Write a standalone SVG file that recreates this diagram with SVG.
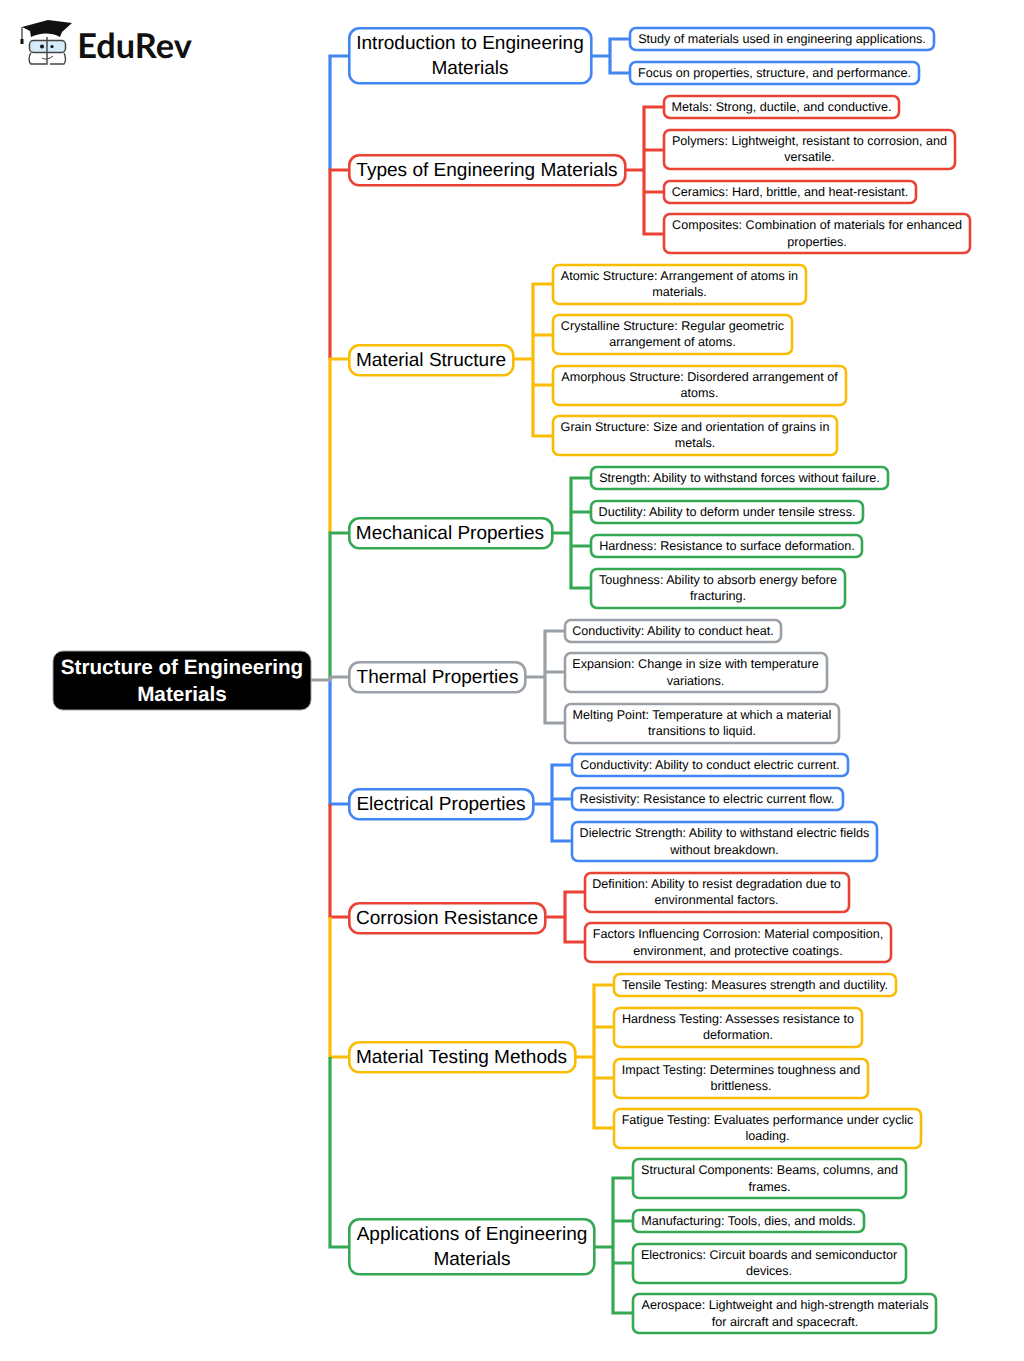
<svg xmlns="http://www.w3.org/2000/svg" width="1024" height="1361" viewBox="0 0 1024 1361">
<style>
.n{fill:#fff;stroke-width:2.6}
.b{stroke:#4285f4}.r{stroke:#ea4335}.y{stroke:#fbbc04}.g{stroke:#34a853}.a{stroke:#9aa0a6}
.c{fill:none;stroke-width:3.2;stroke-linejoin:miter}
text{font-family:"Liberation Sans",Arial,sans-serif;text-anchor:middle;dominant-baseline:central;fill:#000;text-rendering:geometricPrecision}
.t1{font-size:19.050px;transform:translateY(.6px)}
.t2{font-size:12.600px;transform:translateY(-.2px)}
.t0{font-size:20.700px;font-weight:bold;fill:#fff;transform:translateY(.6px)}
</style>
<rect width="1024" height="1361" fill="#fff"/>
<g id="connectors">
<path class="c b" d="M349 56H330V170"/>
<path class="c r" d="M349 170H330V359"/>
<path class="c y" d="M349 359H330V533"/>
<path class="c g" d="M349 533H330V680"/>
<path class="c b" d="M349 804H330V680"/>
<path class="c r" d="M349 917H330V804"/>
<path class="c y" d="M349 1057H330V917"/>
<path class="c g" d="M349 1247H330V1057"/>
<path class="c a" d="M311 680H330L331 677H349"/>
<path class="c b" d="M591 56H610M630 39H610V73H630"/>
<path class="c r" d="M625 170H644M664 107H644V234H664M644 150H664M644 192H664"/>
<path class="c y" d="M513 359H533M553 284H533V436H553M533 335H553M533 385H553"/>
<path class="c g" d="M552 533H571M591 478H571V588H591M571 512H591M571 546H591"/>
<path class="c a" d="M525 677H545M565 631H545V723H565M545 672H565"/>
<path class="c b" d="M533 804H552M572 765H552V841H572M552 799H572"/>
<path class="c r" d="M545 917H565M585 892H565V942H585"/>
<path class="c y" d="M575 1057H594M614 985H594V1128H614M594 1027H614M594 1078H614"/>
<path class="c g" d="M594 1247H613M633 1178H613V1313H633M613 1221H633M613 1263H633"/>
</g>
<g id="logo">
<path d="M22 27L48 20L72 23L62 32L60 37C50 32 40 33 31 37L30 31Z" fill="#111"/>
<path d="M22 27V41" stroke="#333" stroke-width="1.200" fill="none"/>
<rect x="20.500" y="39" width="3" height="5" fill="#111"/>
<rect x="29.500" y="40.500" width="36" height="12" rx="4" fill="#d4ebfa" stroke="#444" stroke-width="1.500"/>
<path d="M31 53C28 56 29 63 31 64H47V37M64 53C66 57 66 62 64 64H50" fill="none" stroke="#444" stroke-width="1.400"/>
<path d="M42 58Q47 61 53 56" fill="none" stroke="#444" stroke-width="1"/>
<circle cx="42" cy="46.500" r="2" fill="#111"/><circle cx="52" cy="46.500" r="1.600" fill="#111"/>
<text x="134.500" y="45" style="font-family:Lato,'Liberation Sans',sans-serif;font-size:34.300px;font-weight:700;fill:#111">EduRev</text>
</g>
<g id="root"><rect x="53" y="651" width="258" height="59" rx="10" fill="#000" stroke="#9aa0a6" stroke-width="1"/><text class="t0" x="182" y="667">Structure of Engineering</text><text class="t0" x="182" y="694">Materials</text></g>
<g id="n1"><rect class="n b" x="349.300" y="28.300" width="242" height="55" rx="10"/><text class="t1" x="470" y="43">Introduction to Engineering</text><text class="t1" x="470" y="68">Materials</text></g>
<g id="n2"><rect class="n r" x="349.300" y="155.300" width="276" height="30" rx="10"/><text class="t1" x="487" y="170">Types of Engineering Materials</text></g>
<g id="n3"><rect class="n y" x="349.300" y="345.300" width="164" height="30" rx="10"/><text class="t1" x="431" y="359.500">Material Structure</text></g>
<g id="n4"><rect class="n g" x="349.300" y="518.300" width="203" height="30" rx="10"/><text class="t1" x="450" y="533">Mechanical Properties</text></g>
<g id="n5"><rect class="n a" x="349.300" y="662.300" width="176" height="30" rx="10"/><text class="t1" x="437.500" y="677">Thermal Properties</text></g>
<g id="n6"><rect class="n b" x="349.300" y="789.300" width="184" height="30" rx="10"/><text class="t1" x="441" y="804">Electrical Properties</text></g>
<g id="n7"><rect class="n r" x="349.300" y="903.300" width="196" height="30" rx="10"/><text class="t1" x="447" y="918">Corrosion Resistance</text></g>
<g id="n8"><rect class="n y" x="349.300" y="1042.300" width="226" height="30" rx="10"/><text class="t1" x="461.500" y="1057">Material Testing Methods</text></g>
<g id="n9"><rect class="n g" x="349.300" y="1219.300" width="245" height="55" rx="10"/><text class="t1" x="472" y="1234">Applications of Engineering</text><text class="t1" x="472" y="1259">Materials</text></g>

<g id="n1a"><rect class="n b" x="630" y="28" width="304" height="22" rx="6"/><text class="t2" x="782" y="39">Study of materials used in engineering applications.</text></g>
<g id="n1b"><rect class="n b" x="630" y="62" width="289" height="22" rx="6"/><text class="t2" x="774.500" y="73">Focus on properties, structure, and performance.</text></g>
<g id="n2a"><rect class="n r" x="664" y="96" width="235" height="22" rx="6"/><text class="t2" x="781.500" y="107">Metals: Strong, ductile, and conductive.</text></g>
<g id="n2b"><rect class="n r" x="664" y="130" width="291" height="39" rx="6"/><text class="t2" x="809.500" y="141">Polymers: Lightweight, resistant to corrosion, and</text><text class="t2" x="809.500" y="157">versatile.</text></g>
<g id="n2c"><rect class="n r" x="664" y="181" width="252" height="22" rx="6"/><text class="t2" x="790" y="192">Ceramics: Hard, brittle, and heat-resistant.</text></g>
<g id="n2d"><rect class="n r" x="664" y="214" width="306" height="39" rx="6"/><text class="t2" x="817" y="225.500">Composites: Combination of materials for enhanced</text><text class="t2" x="817" y="242">properties.</text></g>
<g id="n3a"><rect class="n y" x="553" y="265" width="253" height="39" rx="6"/><text class="t2" x="679.500" y="276">Atomic Structure: Arrangement of atoms in</text><text class="t2" x="679.500" y="292.500">materials.</text></g>
<g id="n3b"><rect class="n y" x="553" y="315" width="239" height="39" rx="6"/><text class="t2" x="672.500" y="326">Crystalline Structure: Regular geometric</text><text class="t2" x="672.500" y="342.500">arrangement of atoms.</text></g>
<g id="n3c"><rect class="n y" x="553" y="366" width="293" height="39" rx="6"/><text class="t2" x="699.500" y="377">Amorphous Structure: Disordered arrangement of</text><text class="t2" x="699.500" y="393">atoms.</text></g>
<g id="n3d"><rect class="n y" x="553" y="416" width="284" height="39" rx="6"/><text class="t2" x="695" y="427">Grain Structure: Size and orientation of grains in</text><text class="t2" x="695" y="443.500">metals.</text></g>
<g id="n4a"><rect class="n g" x="591" y="467" width="297" height="22" rx="6"/><text class="t2" x="739.500" y="478">Strength: Ability to withstand forces without failure.</text></g>
<g id="n4b"><rect class="n g" x="591" y="501" width="272" height="22" rx="6"/><text class="t2" x="727" y="512">Ductility: Ability to deform under tensile stress.</text></g>
<g id="n4c"><rect class="n g" x="591" y="535" width="271" height="22" rx="6"/><text class="t2" x="727" y="546">Hardness: Resistance to surface deformation.</text></g>
<g id="n4d"><rect class="n g" x="591" y="569" width="254" height="39" rx="6"/><text class="t2" x="718" y="580">Toughness: Ability to absorb energy before</text><text class="t2" x="718" y="596.500">fracturing.</text></g>
<g id="n5a"><rect class="n a" x="565" y="620" width="216" height="22" rx="6"/><text class="t2" x="673" y="631">Conductivity: Ability to conduct heat.</text></g>
<g id="n5b"><rect class="n a" x="565" y="653" width="262" height="39" rx="6"/><text class="t2" x="695.500" y="664.500">Expansion: Change in size with temperature</text><text class="t2" x="695.500" y="681">variations.</text></g>
<g id="n5c"><rect class="n a" x="565" y="704" width="274" height="39" rx="6"/><text class="t2" x="702" y="715">Melting Point: Temperature at which a material</text><text class="t2" x="702" y="731.500">transitions to liquid.</text></g>
<g id="n6a"><rect class="n b" x="572" y="754" width="276" height="22" rx="6"/><text class="t2" x="710" y="765">Conductivity: Ability to conduct electric current.</text></g>
<g id="n6b"><rect class="n b" x="572" y="788" width="271" height="22" rx="6"/><text class="t2" x="707" y="799">Resistivity: Resistance to electric current flow.</text></g>
<g id="n6c"><rect class="n b" x="572" y="822" width="305" height="39" rx="6"/><text class="t2" x="724.500" y="833">Dielectric Strength: Ability to withstand electric fields</text><text class="t2" x="724.500" y="850">without breakdown.</text></g>
<g id="n7a"><rect class="n r" x="585" y="873" width="264" height="39" rx="6"/><text class="t2" x="716.500" y="884">Definition: Ability to resist degradation due to</text><text class="t2" x="716.500" y="900">environmental factors.</text></g>
<g id="n7b"><rect class="n r" x="585" y="923" width="306" height="39" rx="6"/><text class="t2" x="738" y="934.500">Factors Influencing Corrosion: Material composition,</text><text class="t2" x="738" y="951">environment, and protective coatings.</text></g>
<g id="n8a"><rect class="n y" x="614" y="974" width="282" height="22" rx="6"/><text class="t2" x="755" y="985">Tensile Testing: Measures strength and ductility.</text></g>
<g id="n8b"><rect class="n y" x="614" y="1008" width="248" height="39" rx="6"/><text class="t2" x="738" y="1019">Hardness Testing: Assesses resistance to</text><text class="t2" x="738" y="1035.500">deformation.</text></g>
<g id="n8c"><rect class="n y" x="614" y="1059" width="254" height="39" rx="6"/><text class="t2" x="741" y="1070">Impact Testing: Determines toughness and</text><text class="t2" x="741" y="1086">brittleness.</text></g>
<g id="n8d"><rect class="n y" x="614" y="1109" width="307" height="39" rx="6"/><text class="t2" x="767.500" y="1120">Fatigue Testing: Evaluates performance under cyclic</text><text class="t2" x="767.500" y="1136.500">loading.</text></g>
<g id="n9a"><rect class="n g" x="633" y="1159" width="273" height="39" rx="6"/><text class="t2" x="769.500" y="1170.500">Structural Components: Beams, columns, and</text><text class="t2" x="769.500" y="1187">frames.</text></g>
<g id="n9b"><rect class="n g" x="633" y="1210" width="231" height="22" rx="6"/><text class="t2" x="748.500" y="1221">Manufacturing: Tools, dies, and molds.</text></g>
<g id="n9c"><rect class="n g" x="633" y="1244" width="273" height="39" rx="6"/><text class="t2" x="769" y="1255">Electronics: Circuit boards and semiconductor</text><text class="t2" x="769" y="1271.500">devices.</text></g>
<g id="n9d"><rect class="n g" x="633" y="1294" width="303" height="39" rx="6"/><text class="t2" x="785" y="1305.500">Aerospace: Lightweight and high-strength materials</text><text class="t2" x="785" y="1322">for aircraft and spacecraft.</text></g>
</svg>
